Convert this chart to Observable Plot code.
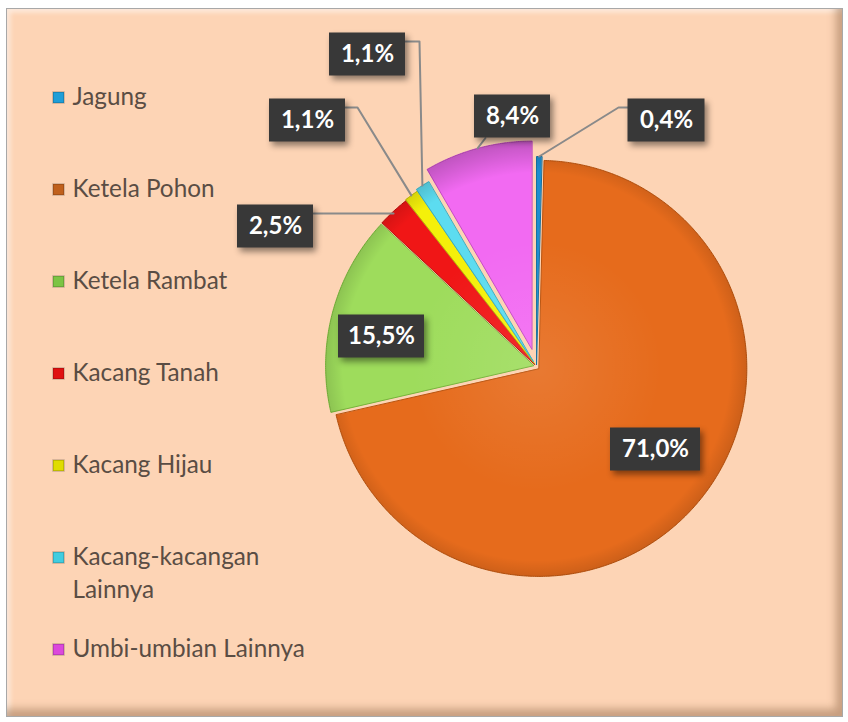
<!DOCTYPE html>
<html><head><meta charset="utf-8">
<script src="https://cdn.jsdelivr.net/npm/d3@7"></script>
<script src="https://cdn.jsdelivr.net/npm/@observablehq/plot@0.6"></script>
<style>
html,body{margin:0;padding:0;background:#fff;}
#wrap{position:relative;width:848px;height:722px;overflow:hidden;}
#frame{position:absolute;left:6px;top:8px;width:835px;height:707px;background:#FDD4B5;border:1px solid #a8a8a8;
  box-shadow: inset -6px -7px 8px rgba(130,90,60,.45), inset 3px 3px 5px rgba(255,255,255,.6);}
#chart{position:absolute;left:0;top:0;}
g[aria-label="rect"] rect{filter:drop-shadow(3px 4px 3px rgba(0,0,0,.45));}
</style></head>
<body><div id="wrap"><div id="frame"></div><div id="chart"></div></div>
<script>
// ---- data ----
const categories = ["Jagung","Ketela Pohon","Ketela Rambat","Kacang Tanah","Kacang Hijau","Kacang-kacangan Lainnya","Umbi-umbian Lainnya"];
const shares = [0.4, 71.0, 15.5, 2.5, 1.1, 1.1, 8.4];
const valueLabels = ["0,4%","71,0%","15,5%","2,5%","1,1%","1,1%","8,4%"];
const legendLabels = ["Jagung","Ketela Pohon","Ketela Rambat","Kacang Tanah","Kacang Hijau","Kacang-kacangan\nLainnya","Umbi-umbian Lainnya"];
const sliceColors = ["#1C8ED0","#E66B1C","#9EDC5C","#F01616","#F4F00A","#5CDCF0","#F26AF2"];
const edgeColors  = ["#15709f","#B8530F","#76B43A","#B80C0C","#BDB800","#38AFC4","#C44CC4"];
const legendColors = ["#1E9ED8","#C0601C","#7CC444","#E01010","#E0DC00","#40CDE0","#DC48DC"];

// ---- layout ----
const W = 848, H = 722;
const cx = 536, cy = 366, R = 208;
const explode = [2, 3, 3, 3, 4, 6, 18];
const labelAt = [[666,120],[655,449],[381,336],[275,226],[307,120],[367,54],[512,116]];
const labelW = [77, 90, 86, 76, 76, 76, 76];
const labelH = 43;
const elbowX = [618, null, null, 313, 357, 419, 485];
const legendX = 58, legendTop = 97, legendStep = 92;

// ---- build pie geometry from shares ----
const total = d3.sum(shares);
let acc = 0;
const slices = shares.map((v, i) => {
  const a0 = acc / total * 2 * Math.PI; acc += v;
  const a1 = acc / total * 2 * Math.PI;
  const mid = (a0 + a1) / 2;
  const ex = explode[i] * Math.sin(mid), ey = -explode[i] * Math.cos(mid);
  return {i, a0, a1, mid, ox: cx + ex, oy: cy + ey};
});
const slicePts = [];
for (const s of slices) {
  slicePts.push({i: s.i, x: s.ox, y: s.oy});
  const n = Math.max(2, Math.ceil((s.a1 - s.a0) / (0.5 * Math.PI / 180)));
  for (let k = 0; k <= n; k++) {
    const a = s.a0 + (s.a1 - s.a0) * k / n;
    slicePts.push({i: s.i, x: s.ox + R * Math.sin(a), y: s.oy - R * Math.cos(a)});
  }
}
// leader lines: box edge -> elbow -> slice outer mid point
const leaderPts = [];
slices.forEach(s => {
  const i = s.i;
  if (elbowX[i] == null) return;
  const [lx, ly] = labelAt[i];
  const tx = s.ox + R * Math.sin(s.mid), ty = s.oy - R * Math.cos(s.mid);
  const left = tx < lx;
  if (i === 6) { // short tick from box bottom
    leaderPts.push({i, x: lx - 27, y: ly + labelH/2}, {i, x: tx, y: ty});
    return;
  }
  const bx = left ? lx - labelW[i]/2 : lx + labelW[i]/2;
  const by = ly - 13;
  if (i === 3) {
    leaderPts.push({i, x: bx, y: by}, {i, x: tx, y: by});
  } else {
    leaderPts.push({i, x: bx, y: by}, {i, x: elbowX[i], y: by}, {i, x: tx, y: ty});
  }
});
const labelData = categories.map((c, i) => ({i, x: labelAt[i][0], y: labelAt[i][1], w: labelW[i], text: valueLabels[i]}));
const legendData = categories.map((c, i) => ({i, y: legendTop + legendStep * i, text: legendLabels[i], color: legendColors[i]}));

const chart = Plot.plot({
  width: W, height: H, margin: 0,
  style: {background: "transparent", fontFamily: "Lato, sans-serif"},
  x: {domain: [0, W], range: [0, W], axis: null},
  y: {domain: [0, H], range: [0, H], axis: null},
  marks: [
    Plot.line(slicePts, {x: "x", y: "y", z: "i", fill: d => sliceColors[d.i], stroke: d => edgeColors[d.i], strokeWidth: 1, curve: "linear-closed"}),
    Plot.line(slicePts, {x: "x", y: "y", z: "i", fill: "url(#pieShade)", stroke: "none", curve: "linear-closed"}),
    Plot.line(leaderPts, {x: "x", y: "y", z: "i", stroke: "#8a8a8a", strokeWidth: 2}),
    Plot.rect(labelData, {x1: d => d.x - d.w/2, x2: d => d.x + d.w/2, y1: d => d.y - labelH/2, y2: d => d.y + labelH/2, fill: "#383838"}),
    Plot.text(labelData, {x: "x", y: "y", text: "text", fill: "white", fontSize: 24, fontWeight: "bold"}),
    Plot.dot(legendData, {x: () => legendX, y: "y", symbol: "square", r: 6.2, fill: "color", stroke: "#00000033"}),
    Plot.text(legendData, {x: () => legendX + 14, y: "y", text: "text", textAnchor: "start", lineAnchor: "top", dy: -15, lineHeight: 1.33, fontSize: 24.3, fill: "#5a4d44"})
  ]
});
// radial shading for the bevelled pie look
const svg = d3.select(chart);
const defs = svg.insert("defs", ":first-child");
const g = defs.append("radialGradient").attr("id", "pieShade").attr("gradientUnits", "userSpaceOnUse")
  .attr("cx", cx).attr("cy", cy).attr("r", R + 20);
[[0, "#ffffff", 0.10], [0.55, "#ffffff", 0.0], [0.85, "#000000", 0.0], [0.93, "#000000", 0.12], [1, "#000000", 0.22]]
  .forEach(([o, c, a]) => g.append("stop").attr("offset", o).attr("stop-color", c).attr("stop-opacity", a));
document.getElementById("chart").appendChild(chart);
</script>
</body></html>
